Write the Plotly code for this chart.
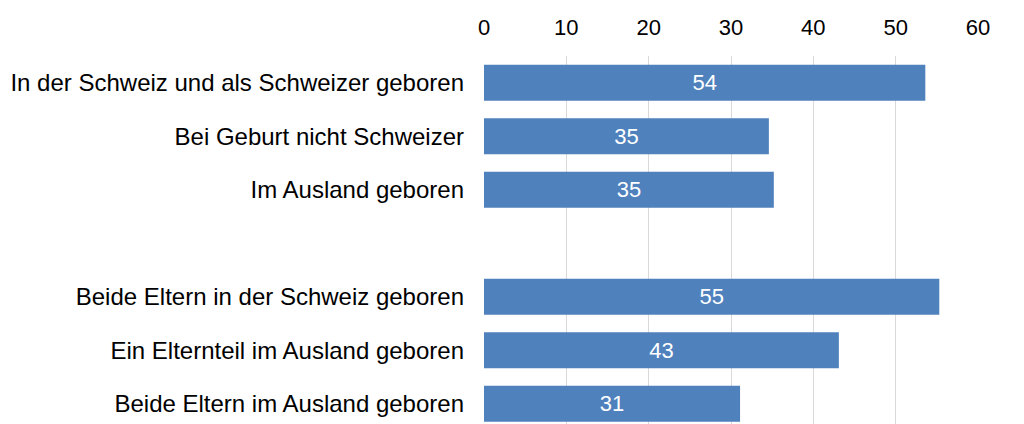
import plotly.graph_objects as go

categories = [
    "In der Schweiz und als Schweizer geboren",
    "Bei Geburt nicht Schweizer",
    "Im Ausland geboren",
    " ",
    "Beide Eltern in der Schweiz geboren",
    "Ein Elternteil im Ausland geboren",
    "Beide Eltern im Ausland geboren",
]
values = [53.6, 34.6, 35.2, None, 55.3, 43.1, 31.1]
value_labels = ["54", "35", "35", "", "55", "43", "31"]
x_ticks = [0, 10, 20, 30, 40, 50, 60]

FONT = "Liberation Sans, Arial, sans-serif"

fig = go.Figure(
    go.Bar(
        x=values,
        y=categories,
        orientation="h",
        marker=dict(color="#4F81BD", line=dict(width=0)),
        text=value_labels,
        textposition="inside",
        insidetextanchor="middle",
        textfont=dict(color="white", size=22, family=FONT),
        cliponaxis=False,
        hoverinfo="x+y",
    )
)

# page body has a default 8px margin, so the figure is sized to fit inside it
fig.update_layout(
    width=1016,
    height=416,
    margin=dict(l=476, r=46, t=48, b=0),
    paper_bgcolor="white",
    plot_bgcolor="white",
    bargap=0.33,
    showlegend=False,
    font=dict(family=FONT, color="black"),
    uniformtext=dict(minsize=8, mode="show"),
)

fig.update_xaxes(
    side="top",
    range=[0, 60],
    tickvals=x_ticks,
    ticktext=[str(v) for v in x_ticks],
    showgrid=True,
    gridcolor="#D9D9D9",
    gridwidth=1.2,
    zeroline=False,
    showline=False,
    ticks="",
    automargin=False,
    tickfont=dict(size=22, family=FONT, color="black"),
    ticklabelstandoff=16,
)

fig.update_yaxes(
    type="category",
    categoryorder="array",
    categoryarray=categories,
    range=[6.379, -0.5],
    showgrid=False,
    zeroline=False,
    showline=False,
    ticks="",
    automargin=False,
    tickfont=dict(size=24, family=FONT, color="black"),
    ticklabelstandoff=19,
)

fig.write_html("out.html")
